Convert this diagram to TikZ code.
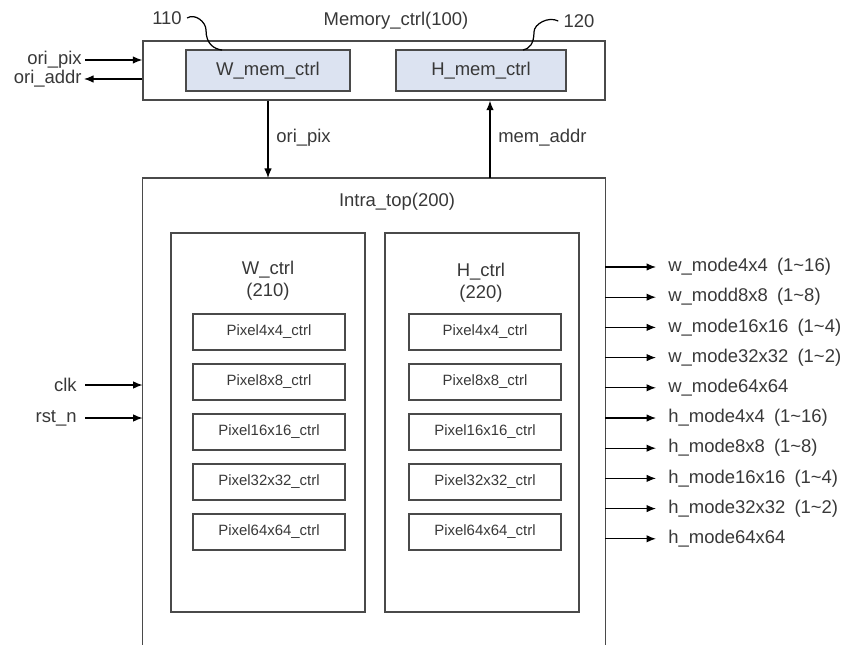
\documentclass[tikz,border=0pt]{standalone}
\usepackage{fontspec}
\setmainfont{Liberation Sans}
\usetikzlibrary{arrows.meta}
\definecolor{lineg}{HTML}{4A4A4A}
\definecolor{memfill}{HTML}{DCE3F1}
\definecolor{txtg}{HTML}{383838}
\newcommand{\rng}[1]{\hspace{0.5em}(1\textasciitilde #1)}

\begin{document}
\begin{tikzpicture}[
  x=0.2mm, y=-0.2mm,
  every node/.style={inner sep=0pt, text=txtg},
  font=\fontsize{10.5}{12.5}\selectfont,
  blk/.style={draw=lineg, line width=0.8pt},
  memblk/.style={blk, fill=memfill, minimum height=8.2mm},
  ctrlblk/.style={blk, minimum width=38.8mm, minimum height=75.8mm},
  pixblk/.style={blk, minimum width=30.4mm, minimum height=7.2mm, font=\fontsize{8.5}{10}\selectfont},
  sig/.style={draw=black, line width=0.7pt, -{Latex[length=1.9mm, width=1.5mm]}},
  outlbl/.style={anchor=west},
  inlbl/.style={anchor=east},
  refline/.style={draw=black, line width=0.7pt}
]
\useasboundingbox (0,0) rectangle (847,645);

% Memory controller (100) with its two sub blocks
\node[blk, minimum width=92.4mm, minimum height=11.8mm] (mem) at (374,70.5) {};
\node (memlbl) at (396,21) {Memory\_ctrl(100)};
\node[memblk, minimum width=32.8mm] (wmem) at (268,70.5) {W\_mem\_ctrl};
\node[memblk, minimum width=34mm]   (hmem) at (481,70.5) {H\_mem\_ctrl};

% reference numbers
\node (r110) at (167,18) {110};
\node (r120) at (579,21) {120};
\coordinate (w110) at (222,50);
\coordinate (h120) at (523,50);
\draw[refline] ([xshift=1mm]r110.east) .. controls +(8,-5) and +(0,-8) .. (206,30)
  .. controls +(0,14) and +(-8,-1) .. (w110);
\draw[refline] ([xshift=-1mm]r120.west) .. controls +(-10,-5) and +(0,-8) .. (534,32)
  .. controls +(0,12) and +(6,-1) .. (h120);

% ports on the left of memory controller
\node[inlbl] (oripixin) at (82,60) {ori\_pix};
\node[inlbl] (oriaddr) at (82,79) {ori\_addr};
\draw[sig] ([xshift=0.6mm]oripixin.east) -- (oripixin.east -| mem.west);
\draw[sig] (oriaddr.east -| mem.west) -- ([xshift=0.4mm]oriaddr.east);

% Intra_top (200), open at the bottom
\node[minimum width=92.4mm, minimum height=93.4mm, anchor=north] (intra) at (374,178) {};
\draw[blk] (intra.south west) -- (intra.north west) -- (intra.north east) -- (intra.south east);
\node (intralbl) at (397,202) {Intra\_top(200)};

% links between the two tops
\coordinate (dn) at (268,0);
\coordinate (up) at (490,0);
\draw[sig] (dn |- mem.south) -- (dn |- intra.north);
\draw[sig] (up |- intra.north) -- (up |- mem.south);
\node[anchor=west] (pixlbl) at (276,138) {ori\_pix};
\node[anchor=west] (addrlbl) at (498,138) {mem\_addr};

% W_ctrl (210) and H_ctrl (220)
\node[ctrlblk] (wctrl) at (268,422.5) {};
\node[ctrlblk] (hctrl) at (482,422.5) {};
\node[align=center] (wctrllbl) at (268,281) {W\_ctrl\\(210)};
\node[align=center] (hctrllbl) at (481,283) {H\_ctrl\\(220)};

\foreach \sz [count=\i] in {4x4,8x8,16x16,32x32,64x64} {
  \node[pixblk] (wp\i) at (269,282+50*\i) {Pixel\sz\_ctrl};
  \node[pixblk] (hp\i) at (485,282+50*\i) {Pixel\sz\_ctrl};
}

% clock and reset
\node[inlbl] (clk) at (77,385) {clk};
\node[inlbl] (rstn) at (77,418) {rst\_n};
\draw[sig] ([xshift=1.6mm]clk.east) -- (clk.east -| intra.west);
\draw[sig] ([xshift=1.6mm]rstn.east) -- (rstn.east -| intra.west);

% mode outputs
\foreach \lbl [count=\i from 0] in {w\_mode4x4\rng{16}, w\_modd8x8\rng{8}, w\_mode16x16\rng{4},
    w\_mode32x32\rng{2}, w\_mode64x64, h\_mode4x4\rng{16}, h\_mode8x8\rng{8},
    h\_mode16x16\rng{4}, h\_mode32x32\rng{2}, h\_mode64x64} {
  \node[outlbl] (o\i) at (668,267+30.2*\i) {\lbl};
  \draw[sig] (o\i.west -| intra.east) -- ([xshift=-2.4mm]o\i.west);
}

\end{tikzpicture}
\end{document}
